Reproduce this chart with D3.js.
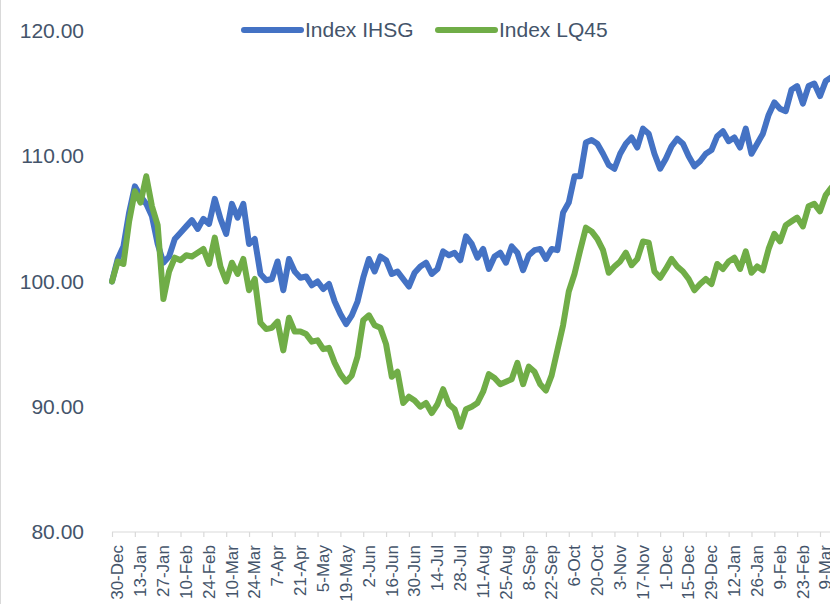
<!DOCTYPE html>
<html>
<head>
<meta charset="utf-8">
<script src="https://cdn.jsdelivr.net/npm/d3@7/dist/d3.min.js"></script>
<style>
  body { margin: 0; background: #fff; overflow: hidden; }
  svg text { font-family: "Liberation Sans", Arial, sans-serif; fill: #44546A; }
</style>
</head>
<body>
<div id="chart"></div>
<script>
// x labels, one every 4 data points
const tick_labels = [
  "30-Dec", "13-Jan", "27-Jan", "10-Feb", "24-Feb", "10-Mar", "24-Mar", "7-Apr",
  "21-Apr", "5-May", "19-May", "2-Jun", "16-Jun", "30-Jun", "14-Jul", "28-Jul",
  "11-Aug", "25-Aug", "8-Sep", "22-Sep", "6-Oct", "20-Oct", "3-Nov", "17-Nov",
  "1-Dec", "15-Dec", "29-Dec", "12-Jan", "26-Jan", "9-Feb", "23-Feb", "9-Mar"
];
const points_per_label = 4;

const ihsg = [
  100.0, 101.8, 102.8, 105.5, 107.6, 106.8, 106.2, 105.2, 103.0, 101.5,
  102.0, 103.4, 103.9, 104.4, 104.9, 104.2, 105.0, 104.6, 106.6, 105.0,
  103.8, 106.2, 105.1, 106.2, 103.0, 103.4, 100.6, 100.1, 100.2, 101.6,
  99.3, 101.8, 100.8, 100.3, 100.4, 99.7, 100.0, 99.4, 99.8, 98.4,
  97.4, 96.6, 97.3, 98.4, 100.3, 101.8, 100.8, 102.0, 101.7, 100.6,
  100.8, 100.2, 99.6, 100.7, 101.2, 101.5, 100.6, 101.0, 102.4, 102.1,
  102.3, 101.7, 103.6, 103.0, 101.9, 102.6, 101.0, 102.0, 102.3, 101.5,
  102.8, 102.3, 100.9, 102.1, 102.5, 102.6, 101.8, 102.6, 102.5, 105.5,
  106.3, 108.4, 108.4, 111.1, 111.3, 111.0, 110.2, 109.3, 109.0, 110.2,
  111.0, 111.5, 110.7, 112.2, 111.8, 110.2, 109.0, 109.8, 110.8, 111.4,
  111.0, 110.0, 109.2, 109.6, 110.2, 110.5, 111.6, 112.0, 111.2, 111.5,
  110.7, 112.2, 110.2, 111.0, 111.8, 113.3, 114.3, 113.8, 113.6, 115.3,
  115.6, 114.2, 115.6, 115.8, 114.8, 116.0, 116.3
];

const lq45 = [
  100.0, 101.6, 101.4, 104.8, 107.2, 106.3, 108.4, 106.0, 104.5, 98.6,
  100.8, 101.9, 101.7, 102.1, 102.0, 102.3, 102.6, 101.4, 103.5, 101.2,
  100.0, 101.5, 100.6, 101.8, 99.3, 100.2, 96.7, 96.2, 96.3, 96.8,
  94.5, 97.1, 96.0, 96.0, 95.8, 95.2, 95.3, 94.6, 94.7, 93.5,
  92.6, 92.0, 92.5, 94.0, 96.9, 97.3, 96.5, 96.3, 95.0, 92.4,
  92.8, 90.3, 90.8, 90.5, 90.0, 90.3, 89.5, 90.2, 91.4, 90.2,
  89.8, 88.4, 89.8, 90.0, 90.3, 91.2, 92.6, 92.3, 91.8, 92.0,
  92.2, 93.5, 91.8, 93.2, 92.8, 91.8, 91.3, 92.5, 94.5, 96.5,
  99.2, 100.6, 102.5, 104.3, 104.0, 103.4, 102.5, 100.7, 101.2, 101.6,
  102.3, 101.3, 101.8, 103.2, 103.1, 100.8, 100.3, 101.0, 101.8, 101.2,
  100.8, 100.2, 99.3, 99.8, 100.2, 99.8, 101.4, 101.0, 101.6, 101.9,
  101.0, 102.4, 100.7, 101.2, 100.9, 102.6, 103.8, 103.2, 104.5, 104.8,
  105.1, 104.4, 106.0, 106.2, 105.6, 106.9, 107.5
];

const y_ticks = [80, 90, 100, 110, 120];
const series_names = ["Index IHSG", "Index LQ45"];
const series_colors = ["#4472C4", "#70AD47"];

const width = 830;
const height = 604;
const margin = { top: 31, left: 112, bottom: 72 };

const svg = d3
  .select("#chart")
  .append("svg")
  .attr("width", width)
  .attr("height", height);

// chart border, only the left edge is inside the frame
svg
  .append("line")
  .attr("x1", 0.5)
  .attr("x2", 0.5)
  .attr("y1", 0)
  .attr("y2", height)
  .attr("stroke", "#D9D9D9");

const x = d3
  .scaleLinear()
  .domain([0, tick_labels.length - 1])
  .range([margin.left, 820]);

const y = d3
  .scaleLinear()
  .domain([80, 120])
  .range([height - margin.bottom, margin.top]);

// y axis: labels only
const y_axis = svg
  .append("g")
  .attr("transform", "translate(84,0)")
  .call(
    d3.axisLeft(y).tickValues(y_ticks).tickFormat(d3.format(".2f")).tickSize(0).tickPadding(0)
  );
y_axis.select(".domain").remove();
y_axis
  .selectAll("text")
  .style("font-size", "21px")
  .style("font-family", '"Liberation Sans", Arial, sans-serif')
  .attr("fill", "#44546A");

// x axis
const x_axis = svg
  .append("g")
  .attr("transform", "translate(0," + y(80) + ")")
  .call(
    d3
      .axisBottom(x)
      .tickValues(d3.range(tick_labels.length))
      .tickFormat((i) => tick_labels[i])
      .tickSize(5)
      .tickSizeOuter(0)
  );
x_axis.select(".domain").remove();
x_axis
  .append("line")
  .attr("x1", x(0))
  .attr("x2", width)
  .attr("stroke", "#D9D9D9")
  .attr("stroke-width", 1.2);
x_axis.selectAll(".tick line").attr("stroke", "#D9D9D9").attr("stroke-width", 1.2);
x_axis
  .selectAll(".tick text")
  .attr("transform", "rotate(-90)")
  .attr("text-anchor", "end")
  .attr("x", -13)
  .attr("y", 5)
  .attr("dy", "0.35em")
  .style("font-size", "17px")
  .style("font-family", '"Liberation Sans", Arial, sans-serif')
  .attr("fill", "#44546A");

// lines
const line = d3
  .line()
  .x((d, i) => x(i / points_per_label))
  .y((d) => y(d));

[ihsg, lq45].forEach(function (values, k) {
  svg
    .append("path")
    .datum(values)
    .attr("d", line)
    .attr("fill", "none")
    .attr("stroke", series_colors[k])
    .attr("stroke-width", 6)
    .attr("stroke-linejoin", "round")
    .attr("stroke-linecap", "round");
});

// legend
const legend_x = [244, 438];
series_names.forEach(function (name, k) {
  const g = svg.append("g").attr("transform", "translate(" + legend_x[k] + ",30)");
  g.append("line")
    .attr("x1", 0)
    .attr("x2", 57)
    .attr("stroke", series_colors[k])
    .attr("stroke-width", 6)
    .attr("stroke-linecap", "round");
  g.append("text")
    .attr("x", 61)
    .attr("dy", "0.35em")
    .style("font-size", "21px")
    .text(name);
});
</script>
</body>
</html>
